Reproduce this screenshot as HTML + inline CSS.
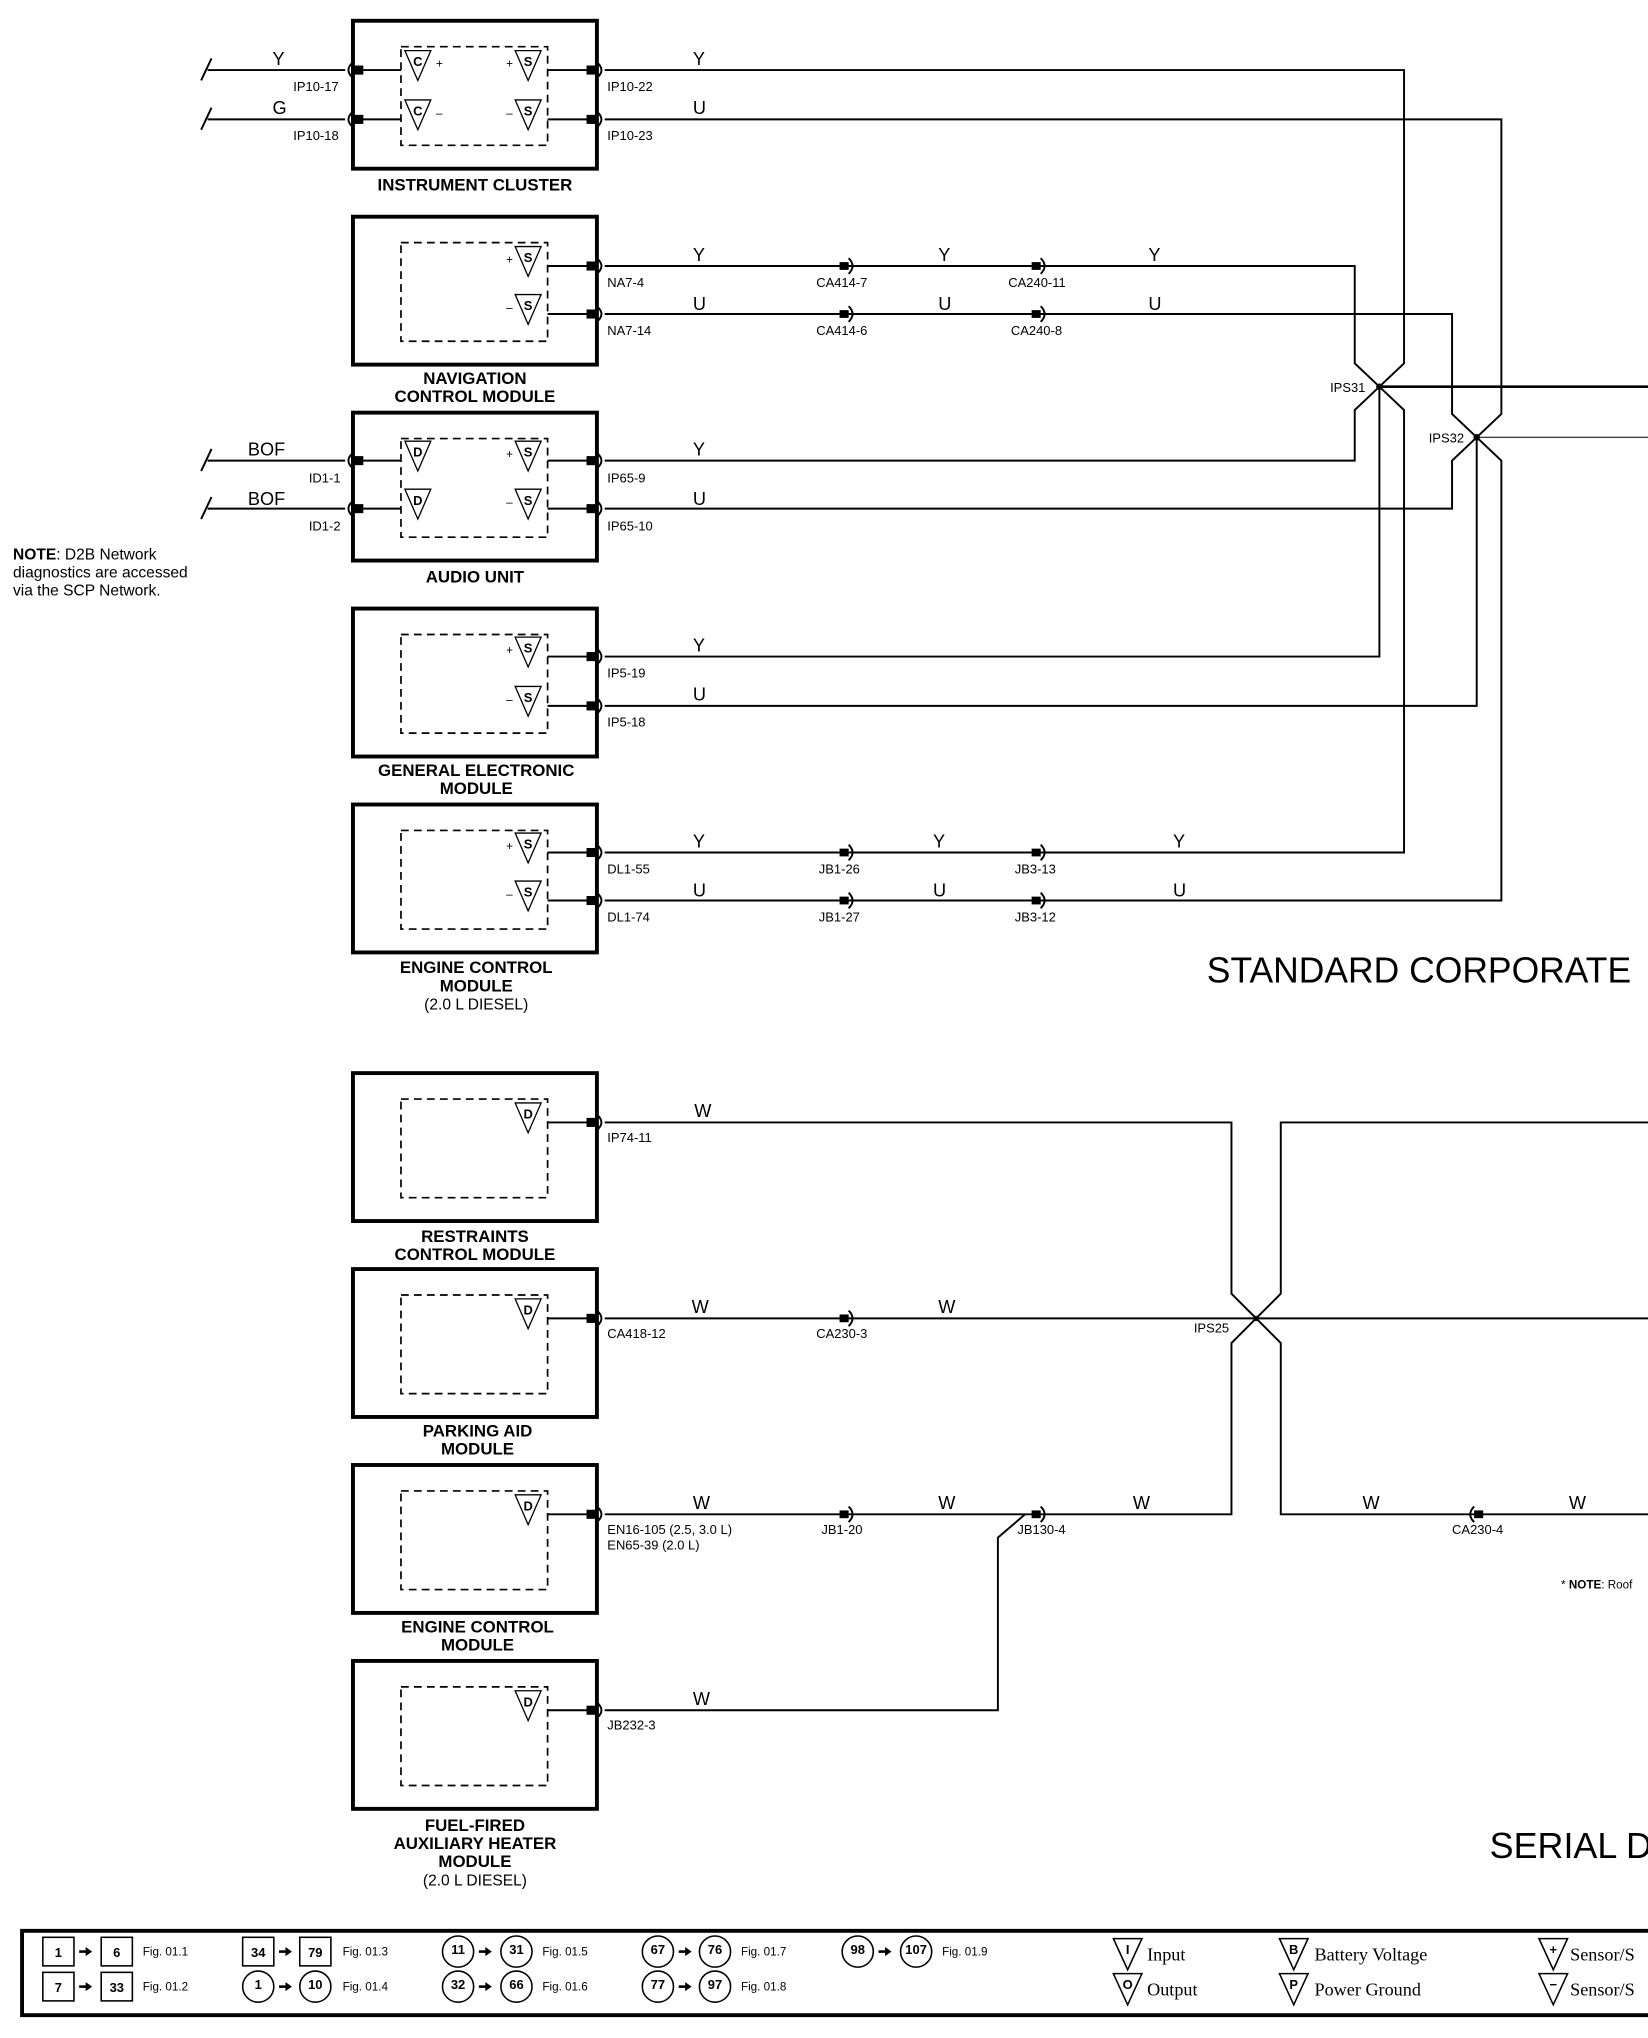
<!DOCTYPE html>
<html><head><meta charset="utf-8"><style>
html,body{margin:0;padding:0;background:#fff}
svg{display:block}
text{font-family:"Liberation Sans",sans-serif;fill:#000}
.pin{font-size:10px}
.wl{font-size:14px}
.nm{font-size:13px;font-weight:bold;text-anchor:middle}
.nr{font-size:12px;text-anchor:middle}
.sy{font-size:10px;font-weight:bold;text-anchor:middle}
.lg{font-size:10px}
.lt{font-size:14px;font-family:"Liberation Serif",serif}
</style></head><body>
<svg width="1648" height="2038" viewBox="0 0 1270 1570.6" preserveAspectRatio="none" xmlns="http://www.w3.org/2000/svg">
<defs>
<g id="rp"><rect x="452" y="-3.5" width="7" height="7"/><path d="M460,-6 q7,6 0,12" fill="none" stroke="#000" stroke-width="1.5"/></g>
<g id="lp"><rect x="273" y="-3.5" width="7" height="7"/><path d="M272,-6 q-7,6 0,12" fill="none" stroke="#000" stroke-width="1.5"/></g>
<g id="ic"><rect x="-7" y="-3" width="7" height="6"/><path d="M0,-6 q6,6 0,12" fill="none" stroke="#000" stroke-width="1.5"/></g>
<g id="icr"><rect x="0" y="-3" width="7" height="6"/><path d="M0,-6 q-6,6 0,12" fill="none" stroke="#000" stroke-width="1.5"/></g>
<path id="tri" d="M-10,-15 L10,-15 L0,8 Z" fill="#fff" stroke="#000" stroke-width="1"/>
<g id="arr"><path d="M0,0h6" stroke="#000" stroke-width="2"/><path d="M5,-3.5L10,0L5,3.5Z"/></g>
</defs>
<g stroke="#000" fill="none">
<g stroke-width="3">
<rect x="272" y="16" width="188" height="114"/><rect x="272" y="167" width="188" height="114"/>
<rect x="272" y="318" width="188" height="114"/><rect x="272" y="469" width="188" height="114"/>
<rect x="272" y="620" width="188" height="114"/><rect x="272" y="827" width="188" height="114"/>
<rect x="272" y="978" width="188" height="114"/><rect x="272" y="1129" width="188" height="114"/>
<rect x="272" y="1280" width="188" height="114"/>
</g>
<g stroke-width="1.3" stroke-dasharray="6,4">
<rect x="309" y="36" width="113" height="76"/><rect x="309" y="187" width="113" height="76"/>
<rect x="309" y="338" width="113" height="76"/><rect x="309" y="489" width="113" height="76"/>
<rect x="309" y="640" width="113" height="76"/><rect x="309" y="847" width="113" height="76"/>
<rect x="309" y="998" width="113" height="76"/><rect x="309" y="1149" width="113" height="76"/>
<rect x="309" y="1300" width="113" height="76"/>
</g>
<g stroke-width="1.5">
<path d="M422,54H455M422,92H455M422,205H455M422,242H455M422,355H455M422,392H455M422,506H455M422,544H455M422,657H455M422,694H455M422,865H455M422,1016H455M422,1167H455M422,1318H455"/>
<path d="M276,54H309M276,92H309M276,355H309M276,392H309"/>
<path d="M160,54H266M160,92H266M160,355H266M160,392H266"/>
<path d="M155,62L163,45M155,100L163,83M155,363L163,346M155,400L163,383"/>
<path d="M466,54H1082V280L1063,298M466,92H1157V319L1138,337"/>
<path d="M466,205H1044V280L1063,298M466,242H1119V319L1138,337"/>
<path d="M466,355H1044V316L1063,298M466,392H1119V355L1138,337"/>
<path d="M466,506H1063V298M466,544H1138V337"/>
<path d="M466,657H1082V316L1063,298M466,694H1157V355L1138,337"/>
<path d="M1063,298H1270" stroke-width="2"/>
<path d="M1138,337H1270" stroke-width="0.8"/>
<path d="M466,865H949V997L968,1016L987,997V865H1270"/>
<path d="M466,1016H1270"/>
<path d="M466,1167H949V1035L968,1016L987,1035V1167H1270"/>
<path d="M466,1318H769V1185L790,1167"/>
</g>
</g>
<circle cx="1063" cy="298" r="2.5"/><circle cx="1138" cy="337" r="2.5"/><circle cx="968" cy="1016" r="2"/>
<use href="#rp" y="54"/><use href="#rp" y="92"/><use href="#rp" y="205"/><use href="#rp" y="242"/>
<use href="#rp" y="355"/><use href="#rp" y="392"/><use href="#rp" y="506"/><use href="#rp" y="544"/>
<use href="#rp" y="657"/><use href="#rp" y="694"/><use href="#rp" y="865"/><use href="#rp" y="1016"/>
<use href="#rp" y="1167"/><use href="#rp" y="1318"/>
<use href="#lp" y="54"/><use href="#lp" y="92"/><use href="#lp" y="355"/><use href="#lp" y="392"/>
<use href="#ic" x="654" y="205"/><use href="#ic" x="802" y="205"/><use href="#ic" x="654" y="242"/><use href="#ic" x="802" y="242"/>
<use href="#ic" x="654" y="657"/><use href="#ic" x="802" y="657"/><use href="#ic" x="654" y="694"/><use href="#ic" x="802" y="694"/>
<use href="#ic" x="654" y="1016"/><use href="#ic" x="654" y="1167"/><use href="#ic" x="802" y="1167"/>
<use href="#icr" x="1136" y="1167"/>
<g>
<use href="#tri" x="407" y="54"/><use href="#tri" x="407" y="92"/><use href="#tri" x="322" y="54"/><use href="#tri" x="322" y="92"/>
<use href="#tri" x="407" y="205"/><use href="#tri" x="407" y="242"/>
<use href="#tri" x="407" y="355"/><use href="#tri" x="407" y="392"/><use href="#tri" x="322" y="355"/><use href="#tri" x="322" y="392"/>
<use href="#tri" x="407" y="506"/><use href="#tri" x="407" y="544"/><use href="#tri" x="407" y="657"/><use href="#tri" x="407" y="694"/>
<use href="#tri" x="407" y="865"/><use href="#tri" x="407" y="1016"/><use href="#tri" x="407" y="1167"/><use href="#tri" x="407" y="1318"/>
</g>
<g class="sy">
<text x="407" y="51" class="sy">S</text><text x="407" y="89" class="sy">S</text><text x="322" y="51" class="sy">C</text><text x="322" y="89" class="sy">C</text>
<text x="407" y="202" class="sy">S</text><text x="407" y="239" class="sy">S</text>
<text x="407" y="352" class="sy">S</text><text x="407" y="389" class="sy">S</text><text x="322" y="352" class="sy">D</text><text x="322" y="389" class="sy">D</text>
<text x="407" y="503" class="sy">S</text><text x="407" y="541" class="sy">S</text><text x="407" y="654" class="sy">S</text><text x="407" y="691" class="sy">S</text>
<text x="407" y="862" class="sy">D</text><text x="407" y="1013" class="sy">D</text><text x="407" y="1164" class="sy">D</text><text x="407" y="1315" class="sy">D</text>
</g>
<g font-size="9">
<text x="390" y="52">+</text><text x="390" y="90">–</text><text x="336" y="52">+</text><text x="336" y="90">–</text>
<text x="390" y="203">+</text><text x="390" y="240">–</text><text x="390" y="353">+</text><text x="390" y="390">–</text>
<text x="390" y="504">+</text><text x="390" y="542">–</text><text x="390" y="655">+</text><text x="390" y="692">–</text>
</g>
<g class="pin">
<text x="468" y="70">IP10-22</text><text x="468" y="108">IP10-23</text>
<text x="226" y="70">IP10-17</text><text x="226" y="108">IP10-18</text>
<text x="468" y="221">NA7-4</text><text x="468" y="258">NA7-14</text>
<text x="629" y="221">CA414-7</text><text x="629" y="258">CA414-6</text>
<text x="777" y="221">CA240-11</text><text x="779" y="258">CA240-8</text>
<text x="238" y="372">ID1-1</text><text x="238" y="409">ID1-2</text>
<text x="468" y="372">IP65-9</text><text x="468" y="409">IP65-10</text>
<text x="468" y="522">IP5-19</text><text x="468" y="560">IP5-18</text>
<text x="468" y="673">DL1-55</text><text x="468" y="710">DL1-74</text>
<text x="631" y="673">JB1-26</text><text x="631" y="710">JB1-27</text>
<text x="782" y="673">JB3-13</text><text x="782" y="710">JB3-12</text>
<text x="1025" y="302">IPS31</text><text x="1101" y="341">IPS32</text>
<text x="468" y="880">IP74-11</text><text x="468" y="1031">CA418-12</text><text x="629" y="1031">CA230-3</text>
<text x="920" y="1027">IPS25</text>
<text x="468" y="1182">EN16-105 (2.5, 3.0 L)</text><text x="468" y="1194">EN65-39 (2.0 L)</text>
<text x="633" y="1182">JB1-20</text><text x="784" y="1182">JB130-4</text><text x="1119" y="1182">CA230-4</text>
<text x="468" y="1333">JB232-3</text>
</g>
<g class="wl">
<text x="210" y="50">Y</text><text x="210" y="88">G</text><text x="534" y="50">Y</text><text x="534" y="88">U</text>
<text x="534" y="201">Y</text><text x="723" y="201">Y</text><text x="885" y="201">Y</text>
<text x="534" y="239">U</text><text x="723" y="239">U</text><text x="885" y="239">U</text>
<text x="191" y="351">BOF</text><text x="191" y="389">BOF</text><text x="534" y="351">Y</text><text x="534" y="389">U</text>
<text x="534" y="502">Y</text><text x="534" y="540">U</text>
<text x="534" y="653">Y</text><text x="719" y="653">Y</text><text x="904" y="653">Y</text>
<text x="534" y="691">U</text><text x="719" y="691">U</text><text x="904" y="691">U</text>
<text x="535" y="861">W</text><text x="533" y="1012">W</text><text x="723" y="1012">W</text>
<text x="534" y="1163">W</text><text x="723" y="1163">W</text><text x="873" y="1163">W</text>
<text x="1050" y="1163">W</text><text x="1209" y="1163">W</text><text x="534" y="1314">W</text>
</g>
<g class="nm">
<text x="366" y="147">INSTRUMENT CLUSTER</text>
<text x="366" y="296">NAVIGATION</text><text x="366" y="310">CONTROL MODULE</text>
<text x="366" y="449">AUDIO UNIT</text>
<text x="367" y="598">GENERAL ELECTRONIC</text><text x="367" y="612">MODULE</text>
<text x="367" y="750">ENGINE CONTROL</text><text x="367" y="764">MODULE</text>
<text x="366" y="957">RESTRAINTS</text><text x="366" y="971">CONTROL MODULE</text>
<text x="368" y="1107">PARKING AID</text><text x="368" y="1121">MODULE</text>
<text x="368" y="1258">ENGINE CONTROL</text><text x="368" y="1272">MODULE</text>
<text x="366" y="1411">FUEL-FIRED</text><text x="366" y="1425">AUXILIARY HEATER</text><text x="366" y="1439">MODULE</text>
</g>
<text class="nr" x="367" y="778">(2.0 L DIESEL)</text>
<text class="nr" x="366" y="1453">(2.0 L DIESEL)</text>
<g font-size="12"><text x="10" y="431"><tspan font-weight="bold">NOTE</tspan>: D2B Network</text><text x="10" y="445">diagnostics are accessed</text><text x="10" y="459">via the SCP Network.</text></g>
<text x="930" y="757" font-size="28" textLength="327" lengthAdjust="spacingAndGlyphs">STANDARD CORPORATE</text>
<text x="1148" y="1432" font-size="28" textLength="125" lengthAdjust="spacingAndGlyphs">SERIAL D</text>
<text x="1203" y="1224" font-size="9">* <tspan font-weight="bold">NOTE</tspan>: Roof</text>
<rect x="17" y="1488" width="1260" height="65" fill="none" stroke="#000" stroke-width="3"/>
<g fill="none" stroke="#000" stroke-width="1.2">
<rect x="33" y="1493" width="24" height="22"/><rect x="78" y="1493" width="24" height="22"/>
<rect x="33" y="1520" width="24" height="22"/><rect x="78" y="1520" width="24" height="22"/>
<rect x="187" y="1493" width="24" height="22"/><rect x="231" y="1493" width="24" height="22"/>
<circle cx="199" cy="1531" r="12"/><circle cx="243" cy="1531" r="12"/>
<circle cx="353" cy="1504" r="12"/><circle cx="398" cy="1504" r="12"/><circle cx="353" cy="1531" r="12"/><circle cx="398" cy="1531" r="12"/>
<circle cx="507" cy="1504" r="12"/><circle cx="551" cy="1504" r="12"/><circle cx="507" cy="1531" r="12"/><circle cx="551" cy="1531" r="12"/>
<circle cx="661" cy="1504" r="12"/><circle cx="706" cy="1504" r="12"/>
<path d="M858,1494H880L869,1518ZM858,1521H880L869,1545ZM986,1494H1008L997,1518ZM986,1521H1008L997,1545ZM1186,1494H1208L1197,1518ZM1186,1521H1208L1197,1545Z"/>
</g>
<use href="#arr" x="61" y="1504"/><use href="#arr" x="61" y="1531"/><use href="#arr" x="215" y="1504"/><use href="#arr" x="215" y="1531"/>
<use href="#arr" x="369" y="1504"/><use href="#arr" x="369" y="1531"/><use href="#arr" x="523" y="1504"/><use href="#arr" x="523" y="1531"/>
<use href="#arr" x="677" y="1504"/>
<g class="lg" font-weight="bold" text-anchor="middle">
<text x="45" y="1508">1</text><text x="90" y="1508">6</text><text x="45" y="1535">7</text><text x="90" y="1535">33</text>
<text x="199" y="1508">34</text><text x="243" y="1508">79</text><text x="199" y="1533">1</text><text x="243" y="1533">10</text>
<text x="353" y="1506">11</text><text x="398" y="1506">31</text><text x="353" y="1533">32</text><text x="398" y="1533">66</text>
<text x="507" y="1506">67</text><text x="551" y="1506">76</text><text x="507" y="1533">77</text><text x="551" y="1533">97</text>
<text x="661" y="1506">98</text><text x="706" y="1506">107</text>
<text x="869" y="1506">I</text><text x="869" y="1533">O</text><text x="997" y="1506">B</text><text x="997" y="1533">P</text><text x="1197" y="1506">+</text><text x="1197" y="1533">−</text>
</g>
<g font-size="9" font-family="Liberation Serif">
<text x="110" y="1507">Fig. 01.1</text><text x="110" y="1534">Fig. 01.2</text><text x="264" y="1507">Fig. 01.3</text><text x="264" y="1534">Fig. 01.4</text>
<text x="418" y="1507">Fig. 01.5</text><text x="418" y="1534">Fig. 01.6</text><text x="571" y="1507">Fig. 01.7</text><text x="571" y="1534">Fig. 01.8</text>
<text x="726" y="1507">Fig. 01.9</text>
</g>
<text class="lt" x="884" y="1511">Input</text><text class="lt" x="884" y="1538">Output</text>
<text class="lt" x="1013" y="1511">Battery Voltage</text><text class="lt" x="1013" y="1538">Power Ground</text>
<text class="lt" x="1210" y="1511">Sensor/S</text><text class="lt" x="1210" y="1538">Sensor/S</text>
</svg>
</body></html>
